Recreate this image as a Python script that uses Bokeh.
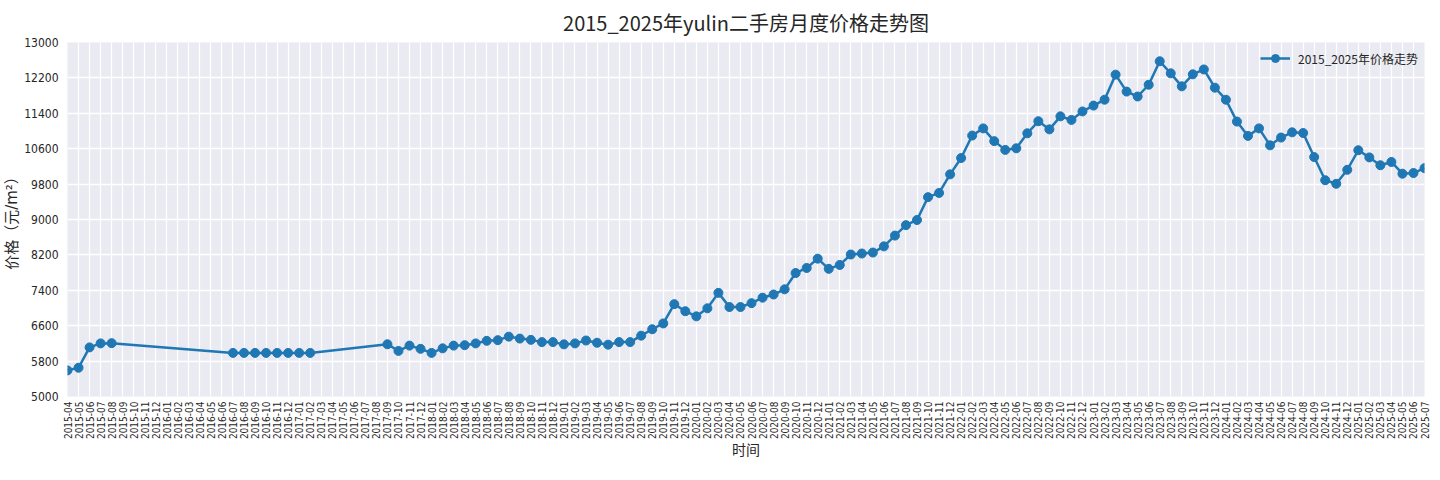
import math
from bokeh.plotting import figure
from bokeh.models import FixedTicker, Range1d, ColumnDataSource, Legend, LegendItem
from bokeh.embed import file_html
from bokeh.resources import INLINE

# ---- data ----
tick_months = [f"{y}-{m:02d}" for y in range(2015, 2026) for m in range(1, 13)]
tick_months = tick_months[tick_months.index("2015-04"):tick_months.index("2025-07") + 1]

price_months = [
    "2015-04", "2015-05", "2015-06", "2015-07", "2015-08",
    "2016-07", "2016-08", "2016-09", "2016-10", "2016-11", "2016-12", "2017-01", "2017-02",
    "2017-09", "2017-10", "2017-11", "2017-12",
    "2018-01", "2018-02", "2018-03", "2018-04", "2018-05", "2018-06", "2018-07", "2018-08",
    "2018-09", "2018-10", "2018-11", "2018-12",
    "2019-01", "2019-02", "2019-03", "2019-04", "2019-05", "2019-06", "2019-07", "2019-08",
    "2019-09", "2019-10", "2019-11", "2019-12",
    "2020-01", "2020-02", "2020-03", "2020-04", "2020-05", "2020-06", "2020-07", "2020-08",
    "2020-09", "2020-10", "2020-11", "2020-12",
    "2021-01", "2021-02", "2021-03", "2021-04", "2021-05", "2021-06", "2021-07", "2021-08",
    "2021-09", "2021-10", "2021-11", "2021-12",
    "2022-01", "2022-02", "2022-03", "2022-04", "2022-05", "2022-06", "2022-07", "2022-08",
    "2022-09", "2022-10", "2022-11", "2022-12",
    "2023-01", "2023-02", "2023-03", "2023-04", "2023-05", "2023-06", "2023-07", "2023-08",
    "2023-09", "2023-10", "2023-11", "2023-12",
    "2024-01", "2024-02", "2024-03", "2024-04", "2024-05", "2024-06", "2024-07", "2024-08",
    "2024-09", "2024-10", "2024-11", "2024-12",
    "2025-01", "2025-02", "2025-03", "2025-04", "2025-05", "2025-06", "2025-07",
]
prices = [
    5590, 5650, 6110, 6200, 6205,
    5985, 5985, 5985, 5985, 5985, 5985, 5985, 5985,
    6180, 6030, 6150, 6077,
    5985, 6088, 6150, 6160, 6200, 6258, 6273, 6353,
    6309, 6280, 6229, 6229,
    6178, 6200, 6265, 6215, 6171, 6229, 6229, 6375,
    6520, 6651, 7087, 6927,
    6811, 6993, 7342, 7022, 7022, 7109, 7233, 7305,
    7422, 7790, 7905, 8115,
    7885, 7973, 8209, 8231, 8253, 8393, 8636, 8872,
    8989, 9505, 9600, 10020,
    10389, 10897, 11059, 10771, 10573, 10609, 10948, 11221,
    11037, 11331, 11250, 11442,
    11574, 11707, 12274, 11891, 11780, 12045, 12576, 12303,
    12009, 12281, 12391, 11979,
    11707, 11213, 10889, 11059, 10676, 10852, 10970, 10955,
    10411, 9888, 9807, 10123,
    10565, 10403, 10226, 10300, 10035, 10050, 10160,
]
y_ticks = list(range(5000, 13001, 800))

title_text = "2015_2025年yulin二手房月度价格走势图"
series_name = "2015_2025年价格走势"
x_label = "时间"
y_label = "价格（元/m²）"

# ---- figure ----
FONT = "Noto Sans CJK SC"
TICK_FONT = "'DejaVu Sans Condensed', 'Liberation Sans Narrow', 'DejaVu Sans', 'Noto Sans CJK SC'"
LABEL_FONT = "'DejaVu Sans', 'Noto Sans CJK SC'"
TXT = "#262626"

x_idx = [tick_months.index(m) for m in price_months]
src = ColumnDataSource(dict(x=x_idx, y=prices, month=price_months))

p = figure(width=1432, height=464, output_backend="svg", toolbar_location=None,
           x_range=Range1d(0, len(tick_months) - 1), y_range=Range1d(5000, 13000),
           min_border_left=58, min_border_right=8, min_border_top=34, min_border_bottom=68)

p.background_fill_color = "#EAEAF2"
p.border_fill_color = "white"
p.outline_line_color = None

p.title.text = title_text
p.title.align = "center"
p.title.text_font = FONT
p.title.text_font_size = "20px"
p.title.text_font_style = "normal"
p.title.text_color = TXT
p.title.offset = 0
p.title.standoff = 11

p.xaxis.ticker = FixedTicker(ticks=list(range(len(tick_months))))
p.xaxis.major_label_overrides = {i: m for i, m in enumerate(tick_months)}
p.xaxis.major_label_orientation = math.pi / 2
p.yaxis.ticker = FixedTicker(ticks=y_ticks)

for ax in (p.xaxis, p.yaxis):
    ax.axis_line_color = None
    ax.major_tick_line_color = None
    ax.minor_tick_line_color = None
    ax.major_tick_out = 0
    ax.major_tick_in = 0
    ax.minor_tick_out = 0
    ax.major_label_text_font = TICK_FONT
    ax.major_label_text_color = TXT
    ax.axis_label_text_font = LABEL_FONT
    ax.axis_label_text_font_style = "normal"
    ax.axis_label_text_color = TXT

p.xaxis.major_label_text_font_size = "10px"
p.yaxis.major_label_text_font_size = "12px"
p.xaxis.axis_label_text_font_size = "14px"
p.yaxis.axis_label_text_font_size = "15px"
p.xaxis.major_label_standoff = 5
p.yaxis.major_label_standoff = 9
p.xaxis.axis_label = x_label
p.yaxis.axis_label = y_label
p.xaxis.axis_label_standoff = 0
p.yaxis.axis_label_standoff = 0

p.xgrid.grid_line_color = "white"
p.xgrid.grid_line_width = 1.2
p.ygrid.grid_line_color = "white"
p.ygrid.grid_line_width = 1.5

ln = p.line("x", "y", source=src, line_color="#1f77b4", line_width=2.5)
sc = p.scatter("x", "y", source=src, size=9, fill_color="#1f77b4", line_color="#1f77b4")

legend = Legend(items=[LegendItem(label=series_name, renderers=[ln, sc])],
                location="top_right")
legend.background_fill_alpha = 0
legend.border_line_color = None
legend.label_text_font = FONT
legend.label_text_font_size = "12px"
legend.label_text_color = TXT
legend.glyph_width = 30
legend.label_standoff = 8
legend.margin = 6
legend.padding = 5
p.add_layout(legend)

open("out.html", "w").write(file_html(p, INLINE))
